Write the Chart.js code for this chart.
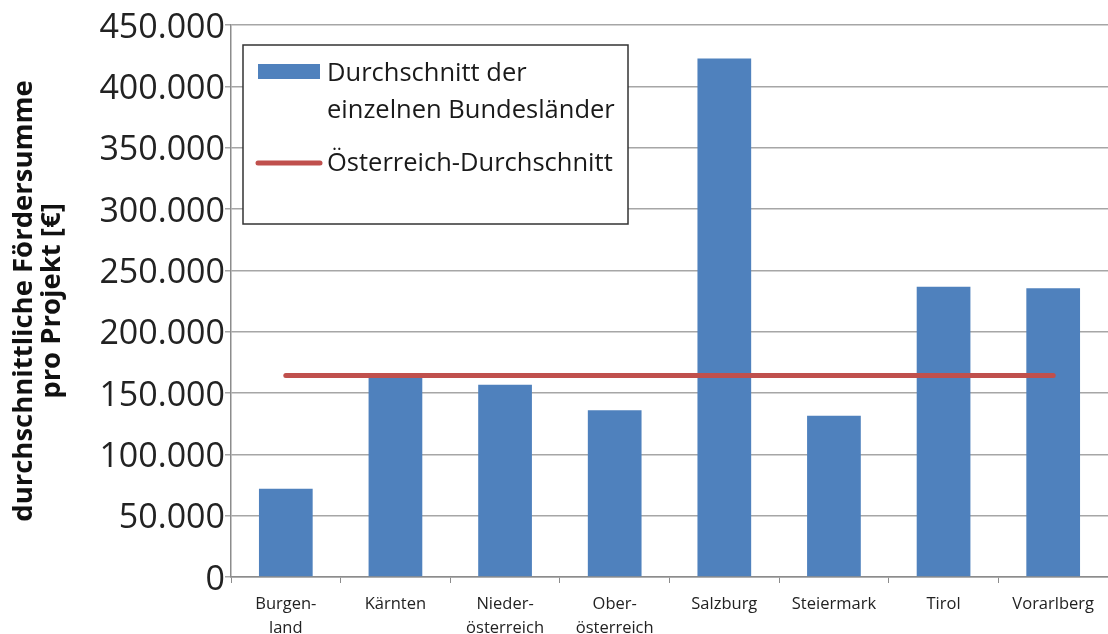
<!DOCTYPE html>
<html>
<head>
<meta charset="utf-8">
<script src="https://cdn.jsdelivr.net/npm/chart.js@4/dist/chart.umd.min.js"></script>
<style>
  html, body { margin: 0; padding: 0; background: #fff; }
  #wrap { width: 1108px; height: 634px; }
</style>
</head>
<body>
<div id="wrap"><canvas id="chart" width="1108" height="634"></canvas></div>
<script>
const laender = [
  ["Burgen-", "land"], "Kärnten", ["Nieder-", "österreich"], ["Ober-", "österreich"],
  "Salzburg", "Steiermark", "Tirol", "Vorarlberg"
];
const durchschnittLaender = [72000, 162600, 156700, 136000, 422700, 131400, 236700, 235400];
const oesterreichSchnitt = [164300, 164300, 164300, 164300, 164300, 164300, 164300, 164300];
const yTicks = [0, 50000, 100000, 150000, 200000, 250000, 300000, 350000, 400000, 450000];

const blau = '#4F81BD';
const rot = '#C0504D';

// Legende im Diagramm, wie im Original (Box oben links)
const boxLegend = {
  id: 'boxLegend',
  afterDatasetsDraw(chart) {
    const ctx = chart.ctx;
    const ds = chart.data.datasets;
    ctx.save();
    ctx.fillStyle = '#fff';
    ctx.fillRect(243, 45, 385, 179);
    ctx.strokeStyle = '#333';
    ctx.lineWidth = 1.5;
    ctx.strokeRect(243, 45, 385, 179);

    ctx.fillStyle = blau;
    ctx.fillRect(258, 64, 62, 15);

    ctx.strokeStyle = rot;
    ctx.lineWidth = 5;
    ctx.lineCap = 'round';
    ctx.beginPath();
    ctx.moveTo(258, 163);
    ctx.lineTo(320, 163);
    ctx.stroke();

    ctx.fillStyle = '#1a1a1a';
    ctx.font = '25.5px "Open Sans"';
    ctx.textBaseline = 'middle';
    ctx.textAlign = 'left';
    const l0 = ds[0].label.split('\n');
    ctx.fillText(l0[0], 327, 74);
    ctx.fillText(l0[1], 327, 111);
    ctx.fillText(ds[1].label, 327, 164);
    ctx.restore();
  }
};

new Chart(document.getElementById('chart'), {
  type: 'bar',
  data: {
    labels: laender,
    datasets: [
      {
        label: 'Durchschnitt der\neinzelnen Bundesländer',
        data: durchschnittLaender,
        backgroundColor: blau,
        barPercentage: 0.49,
        categoryPercentage: 1,
        order: 1
      },
      {
        type: 'line',
        label: 'Österreich-Durchschnitt',
        data: oesterreichSchnitt,
        borderColor: rot,
        borderWidth: 5,
        borderCapStyle: 'round',
        pointRadius: 0,
        fill: false,
        order: 0
      }
    ]
  },
  options: {
    responsive: false,
    animation: false,
    devicePixelRatio: 1,
    layout: { padding: { top: 25, right: 0, bottom: 0, left: 0 } },
    plugins: {
      legend: { display: false },
      tooltip: { enabled: false }
    },
    scales: {
      x: {
        offset: true,
        grid: { drawOnChartArea: false, drawTicks: true, tickLength: 6, color: '#8c8c8c', offset: true },
        border: { color: '#8c8c8c', width: 1.5 },
        ticks: {
          color: '#222',
          font: { family: 'Open Sans', size: 16.5, lineHeight: 1.45 },
          padding: 9,
          maxRotation: 0,
          autoSkip: false
        },
        afterFit(scale) { scale.height = 57; }
      },
      y: {
        min: 0,
        max: 450000,
        afterBuildTicks(scale) { scale.ticks = yTicks.map(v => ({ value: v })); },
        grid: { color: '#a6a6a6', lineWidth: 1.5, drawTicks: true, tickLength: 6 },
        border: { color: '#8c8c8c', width: 1.5 },
        ticks: {
          color: '#222',
          font: { family: 'Open Sans', size: 34 },
          padding: 0,
          labelOffset: 3,
          callback: v => v.toLocaleString('de-DE')
        },
        title: {
          display: true,
          text: ['durchschnittliche Fördersumme', 'pro Projekt [€]'],
          color: '#111',
          font: { family: 'Open Sans', size: 27.5, weight: 'bold', lineHeight: 1.02 },
          padding: { top: 10, bottom: 0 }
        },
        afterFit(scale) { scale.width = 231; }
      }
    }
  },
  plugins: [boxLegend]
});
</script>
</body>
</html>
